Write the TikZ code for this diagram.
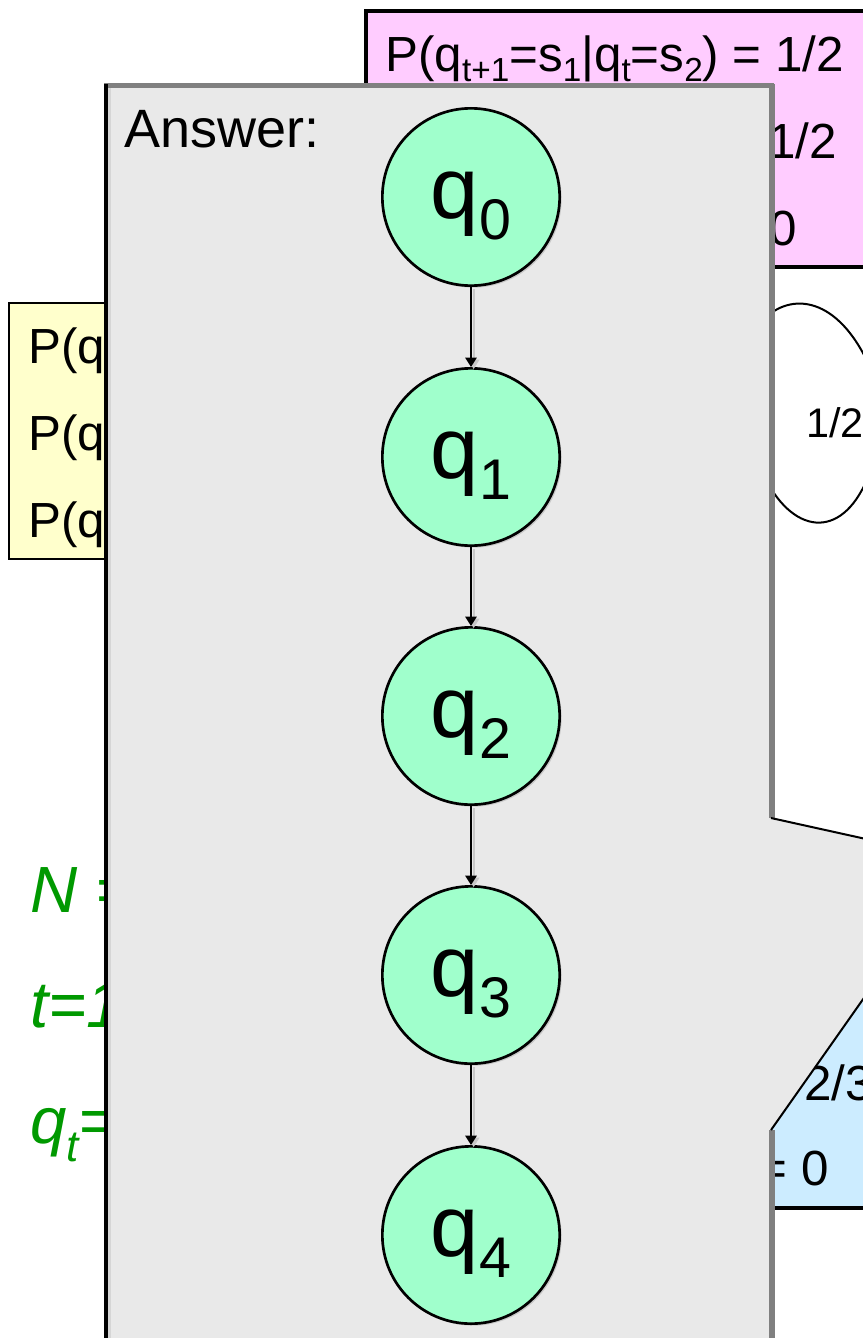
\documentclass[tikz,border=0pt]{standalone}
\usepackage{fontspec}
\setmainfont{Liberation Sans}
\usetikzlibrary{arrows.meta,shadows}
\definecolor{pinkbg}{RGB}{255,204,255}
\definecolor{yellowbg}{RGB}{255,255,204}
\definecolor{bluebg}{RGB}{204,236,255}
\definecolor{greybg}{RGB}{233,233,233}
\definecolor{circfill}{RGB}{160,255,204}
\definecolor{txtgreen}{RGB}{0,153,0}
\definecolor{edgegrey}{RGB}{128,128,128}
\definecolor{stripgrey}{RGB}{214,214,214}
\definecolor{shadowgrey}{RGB}{200,200,200}
\newcommand\fs[1]{\fontsize{#1}{#1}\selectfont}
\newcommand\lsub[3]{\raisebox{-#1}{\fs{#2}#3}}
\begin{document}
\begin{tikzpicture}[x=0.75pt,y=-0.75pt,
  state/.style={circle,draw=black,line width=2pt,fill=circfill,minimum size=133pt,
    inner sep=0pt,font=\fs{65},text height=34pt,text depth=2pt,
    drop shadow={shadow xshift=1.5pt,shadow yshift=-1.5pt,fill=shadowgrey,opacity=1}},
  flow/.style={line width=1.3pt,-{Triangle[width=8.5pt,length=7pt]}},
  flowshadow/.style={line width=1.3pt,draw=shadowgrey,fill=shadowgrey,
    -{Triangle[width=8.5pt,length=7pt]},transform canvas={shift={(2pt,-1.5pt)}}},
  boxtext/.style={anchor=base west,inner sep=0pt,font=\fs{37}},
  greentext/.style={anchor=base west,inner sep=0pt,font=\fs{49}\itshape,text=txtgreen}]
\useasboundingbox (0,0) rectangle (863,1338);
\clip (0,0) rectangle (863,1338);
\fill[white] (0,0) rectangle (863,1338);

% pink box
\draw[fill=pinkbg,line width=2.5pt] (366,11) rectangle (900,267);
\node[boxtext] (p1) at (385,72) {P(q\lsub{7pt}{25}{t+1}=s\lsub{7pt}{25}{1}|q\lsub{7pt}{25}{t}=s\lsub{7pt}{25}{2}) = 1/2};
\node[boxtext,anchor=base east] (p2) at (837,158) {1/2};
\node[boxtext,anchor=base east] (p3) at (797,245) {0};

% yellow box
\draw[fill=yellowbg,line width=2.2pt] (9,303) rectangle (200,559);
\node[boxtext] (y1) at (28,363) {P(q};
\node[boxtext] (y2) at (28,450) {P(q};
\node[boxtext] (y3) at (28,537) {P(q};

% self loop on the right
\draw[line width=1.5pt] (765,318) .. controls (795,290) and (842,300) .. (872,372);
\draw[line width=1.5pt] (765,478) .. controls (795,537) and (845,540) .. (870,472);
\node[anchor=base west,inner sep=0pt,font=\fs{31}] (l1) at (806,437) {1/2};

% blue box
\draw[fill=bluebg,line width=2.5pt] (700,950) rectangle (900,1208);
\node[boxtext] (b1) at (804,1100) {2/3};
\node[boxtext,anchor=base east] (b2) at (829,1185) {= 0};

% green text
\node[greentext] (g1) at (30,912) {N =};
\node[greentext] (g2) at (30,1027) {t=1};
\node[greentext] (g3) at (30,1143) {q\lsub{14pt}{33}{t}=};

% answer panel
\fill[greybg] (106,85) -- (772,85) -- (772,818) -- (961,860) -- (772,1130) -- (772,1345) -- (106,1345) -- cycle;
\draw[stripgrey,line width=2pt] (109.5,88) -- (109.5,1345);
\draw[edgegrey,line width=3.5pt] (104,85.5) -- (774,85.5);
\draw[black,line width=3pt] (106,84) -- (106,1345);
\draw[edgegrey,line width=4.5pt] (772,84) -- (772,818);
\draw[edgegrey,line width=4.5pt] (772,1130) -- (772,1345);
\draw[black,line width=1.5pt] (771,818) -- (961,860) -- (771,1130);
\node[anchor=base west,inner sep=0pt,font=\fs{40.5}] (ans) at (124,147) {Answer:};

% chain
\node[state] (q0) at (471,197) {q\lsub{16pt}{43}{0}};
\node[state] (q1) at (471,457) {q\lsub{16pt}{43}{1}};
\node[state] (q2) at (471,716) {q\lsub{16pt}{43}{2}};
\node[state] (q3) at (471,975) {q\lsub{16pt}{43}{3}};
\node[state] (q4) at (471,1235) {q\lsub{16pt}{43}{4}};
\foreach \a/\b in {q0/q1,q1/q2,q2/q3,q3/q4}{
  \draw[flowshadow] (\a) -- (\b);
  \draw[flow] (\a) -- (\b);
}
\end{tikzpicture}
\end{document}
